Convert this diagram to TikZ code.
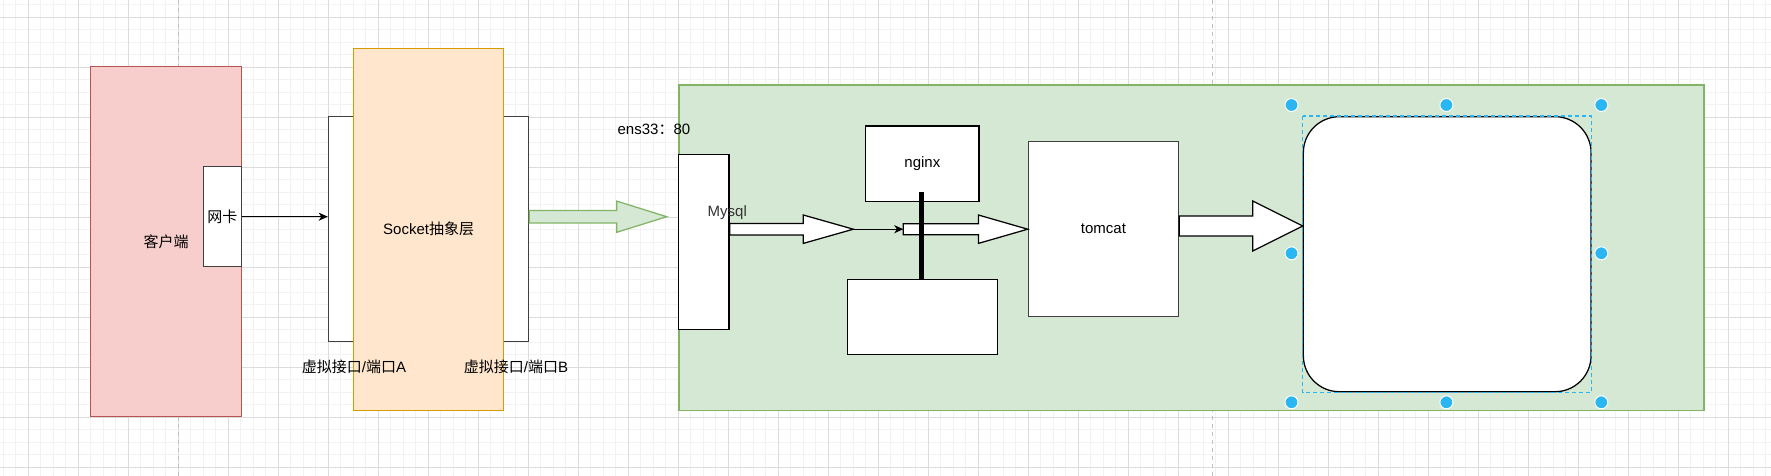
\documentclass[tikz,border=0pt]{standalone}
\usepackage{fontspec}
\setmainfont{Liberation Sans}
\newfontfamily\cjk{Noto Sans CJK SC}
\usetikzlibrary{arrows.meta,calc}
\definecolor{pinkfill}{HTML}{F8CECC}
\definecolor{pinkline}{HTML}{B85450}
\definecolor{orangefill}{HTML}{FFE6CC}
\definecolor{orangeline}{HTML}{D79B00}
\definecolor{greenfill}{HTML}{D5E8D4}
\definecolor{greenline}{HTML}{82B366}
\definecolor{selblue}{HTML}{29B6F2}
\definecolor{gridmajor}{HTML}{DCDCDC}
\definecolor{gridminor}{HTML}{F2F2F2}
\definecolor{boxline}{HTML}{404040}
\definecolor{pagebreak}{HTML}{C0C0C0}
\definecolor{mysqltext}{HTML}{333333}
\tikzset{
  shapebox/.style={draw=boxline, fill=white, line width=1.25pt, inner sep=0pt},
  txt/.style={inner sep=0pt},
  whitearrow/.style={draw=black, fill=white, line width=1.25pt, line join=miter},
  greenarrow/.style={draw=greenline, fill=greenfill, line width=1.25pt, line join=miter},
  thinarrow/.style={draw=black, line width=1.25pt, -{Stealth[length=9pt,width=8pt,inset=2.5pt]}},
  minorgrid/.style={draw=gridminor, line width=1pt},
  majorgrid/.style={draw=gridmajor, line width=1pt},
  pageline/.style={draw=pagebreak, line width=1.2pt, dash pattern=on 4pt off 4pt},
  handle/.style={fill=selblue, draw=white, line width=1pt},
}
% #1 style, #2 start, #3 tip, #4 body half width, #5 head half width, #6 head length
\newcommand\flexarrow[6]{%
  \path[#1] let \p1=(#2), \p2=(#3) in
    (\x1,\y1+#4) -- (\x2-#6,\y1+#4) -- (\x2-#6,\y1+#5) -- (\x2,\y1)
    -- (\x2-#6,\y1-#5) -- (\x2-#6,\y1-#4) -- (\x1,\y1-#4) -- cycle;}
\begin{document}
\begin{tikzpicture}[x=1pt,y=-1pt,font=\fontsize{15}{18}\selectfont]
\useasboundingbox (0,0) rectangle (1771,476);
\fill[white] (0,0) rectangle (1771,476);
% grid
\foreach \i in {0,...,142} { \draw[minorgrid] ({3.3+12.5*\i},0) -- ++(0,476); }
\foreach \i in {0,...,38} { \draw[minorgrid] (0,{4.8+12.5*\i}) -- ++(1771,0); }
\foreach \i in {0,...,35} { \draw[majorgrid] ({28.3+50*\i},0) -- ++(0,476); }
\foreach \i in {0,...,9} { \draw[majorgrid] (0,{17.3+50*\i}) -- ++(1771,0); }
\draw[pageline] (178.7,0) -- (178.7,476);
\draw[pageline] (1212.3,0) -- (1212.3,476);

% client
\node[draw=pinkline, fill=pinkfill, line width=1.25pt, inner sep=0pt,
      minimum width=150.6pt, minimum height=350pt] (client) at (166,241.7) {};
\node[txt] (clientlbl) at (166,241.7) {\cjk 客户端};
\node[shapebox, minimum width=37.7pt, minimum height=100pt] (nic) at (222.45,216.7) {\cjk 网卡};

% socket layer
\node[shapebox, minimum width=25.1pt, minimum height=225pt] (portA) at (340.95,229.2) {};
\node[shapebox, minimum width=25pt, minimum height=225pt] (portB) at (516.1,229.2) {};
\node[draw=orangeline, fill=orangefill, line width=1.25pt, inner sep=0pt,
      minimum width=150.1pt, minimum height=362.4pt] (socket) at (428.55,229.5) {};
\node[txt] (socketlbl) at (428.6,228.7) {Socket{\cjk 抽象层}};
\node[txt] (portAlbl) at (354,366.7) {{\cjk 虚拟接口}/{\cjk 端口}A};
\node[txt] (portBlbl) at (516,366.7) {{\cjk 虚拟接口}/{\cjk 端口}B};
\draw[thinarrow] (nic.east) -- (nic.east -| portA.west);

% server
\node[draw=greenline, fill=greenfill, line width=1.25pt, inner sep=0pt,
      minimum width=1025pt, minimum height=325.7pt] (server) at (1191.5,247.85) {};
\coordinate (gS) at (portB.east |- nic.east);
\coordinate (gE) at (666.7,216.7);
\flexarrow{greenarrow}{gS}{gE}{6.25pt}{15.6pt}{50pt}
\node[txt] (enslbl) at (653.9,129) {ens33{\cjk ：}80};

\node[shapebox, draw=black, minimum width=50.7pt, minimum height=175pt] (mysql) at (703.65,241.8) {};
\node[shapebox, draw=black, minimum width=113.3pt, minimum height=75.3pt] (nginx) at (922.35,163.65) {nginx};
\node[shapebox, draw=black, minimum width=150.4pt, minimum height=75.4pt] (lowbox) at (922.5,317) {};
\node[shapebox, minimum width=150.2pt, minimum height=175pt] (tomcat) at (1103.4,229.2) {tomcat};

\coordinate (a1s) at (mysql.east |- tomcat.west);
\coordinate (a1e) at (853.3,229.2);
\coordinate (a2s) at (903.3,229.2);
\flexarrow{whitearrow}{a1s}{a1e}{5.7pt}{14.2pt}{50pt}
\node[txt, text=mysqltext] (mysqllbl) at (727.3,213) {Mysql};
\draw[thinarrow] (a1e) -- (a2s);
\flexarrow{whitearrow}{a2s}{tomcat.west}{5.5pt}{14.2pt}{49.3pt}
\coordinate (tl) at (921.7,191.7);
\draw[line width=5pt] (tl) -- (tl |- lowbox.north);

% pane
\node[draw=black, fill=white, line width=1.25pt, inner sep=0pt, rounded corners=36pt,
      minimum width=287.7pt, minimum height=275pt] (pane) at (1447.2,254.2) {};
\coordinate (a3s) at ($(tomcat.east)+(0,-3.2)$);
\flexarrow{whitearrow}{a3s}{a3s -| pane.west}{10pt}{25pt}{50pt}
\draw[selblue, line width=1.2pt, dash pattern=on 4pt off 3pt] (pane.north west) rectangle (pane.south east);
\foreach \hx/\hy in {1291.5/105,1446.4/105,1601.3/105,1291.5/253.3,1601.3/253.3,1291.5/402.3,1446.4/402.3,1601.3/402.3}
  { \path[handle] (\hx,\hy) circle[radius=6.5pt]; }
\end{tikzpicture}
\end{document}
